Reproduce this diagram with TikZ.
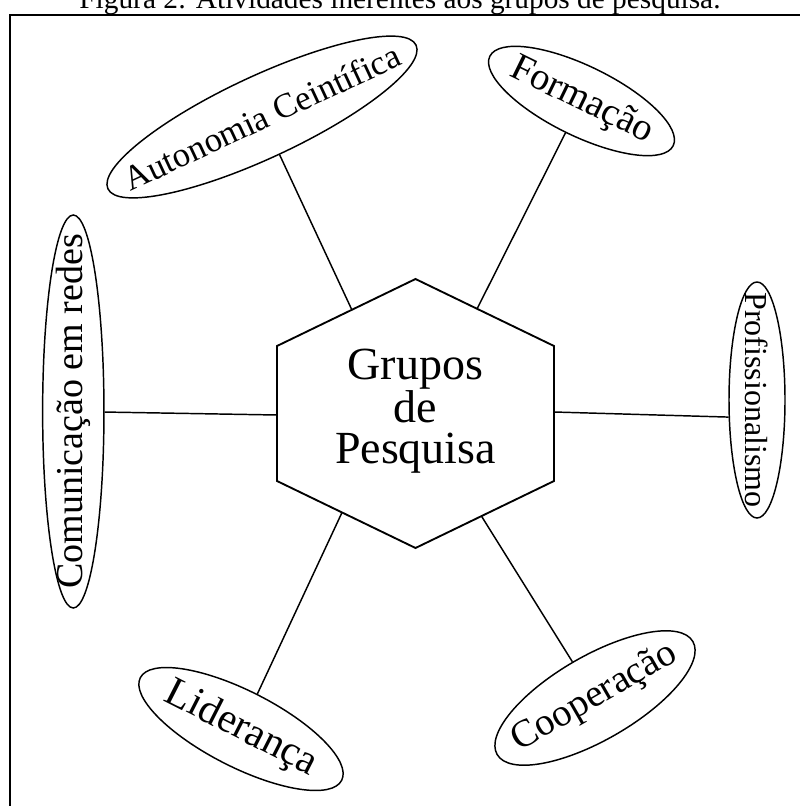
\documentclass[tikz,border=0pt]{standalone}
\usepackage{fontspec}
\setmainfont{Liberation Serif}
\usetikzlibrary{shapes}

\begin{document}
\begin{tikzpicture}[x=0.75pt,y=0.75pt]
\tikzstyle{every node}+=[inner sep=0pt]
\tikzstyle{balao}=[draw=black, line width=1.1pt, ellipse]
\tikzstyle{linha}=[black, line width=1.1pt]
\useasboundingbox (0,0) rectangle (800,-806);
\draw [black, line width=1.6pt] (10,-806) -- (10,-15) -- (800,-15);
\node (titulo) [anchor=base, font=\fontsize{22}{26}\selectfont] at (400,-8.3) {Figura 2: Atividades inerentes aos grupos de pesquisa.};
\draw [black, line width=1.4pt] (415.5,-279) -- (554,-346) -- (554,-481) -- (415.5,-548) -- (277,-481) -- (277,-346) -- cycle;
\node (grupos) [align=center, font=\fontsize{34.5}{30.75}\selectfont] at (415.5,-411.5) {Grupos\\de\\Pesquisa};
\coordinate (hexul) at (351.7,-309.5);
\coordinate (hexur) at (477,-309);
\coordinate (hexl) at (277,-415);
\coordinate (hexr) at (554,-412);
\coordinate (hexll) at (342,-512.5);
\coordinate (hexlr) at (481.7,-516.5);
\node (auton) [balao, minimum width=255pt, minimum height=61.5pt, rotate=25] at (262,-117) {};
\node (autontxt) [rotate=25, font=\fontsize{26}{30}\selectfont] at (auton) {Autonomia Ceintífica};
\node (form) [balao, minimum width=153pt, minimum height=52.5pt, rotate=-26] at (581.5,-101) {};
\node (formtxt) [rotate=-26, font=\fontsize{29}{33}\selectfont] at (form) {Formação};
\node (comun) [balao, minimum width=294.75pt, minimum height=46pt, rotate=90] at (73.3,-411.5) {};
\node (comuntxt) [rotate=90, font=\fontsize{28.5}{32}\selectfont] at (comun) {Comunicação em redes};
\node (prof) [balao, minimum width=177pt, minimum height=42pt, rotate=-90] at (757,-400) {};
\node (proftxt) [rotate=-90, font=\fontsize{24}{27}\selectfont] at (prof) {Profissionalismo};
\node (lider) [balao, minimum width=169.5pt, minimum height=57pt, rotate=-27] at (241,-729) {};
\node (lidertxt) [rotate=-27, font=\fontsize{31}{35}\selectfont] at (lider) {Liderança};
\node (coop) [balao, minimum width=169.5pt, minimum height=63pt, rotate=30] at (595,-698) {};
\node (cooptxt) [rotate=30, font=\fontsize{29}{33}\selectfont] at (coop) {Cooperação};
\draw [linha] (hexul) -- (auton);
\draw [linha] (hexur) -- (form);
\draw [linha] (hexl) -- (comun);
\draw [linha] (hexr) -- (prof.-59);
\draw [linha] (hexll) -- (lider);
\draw [linha] (hexlr) -- (coop);
\end{tikzpicture}
\end{document}
